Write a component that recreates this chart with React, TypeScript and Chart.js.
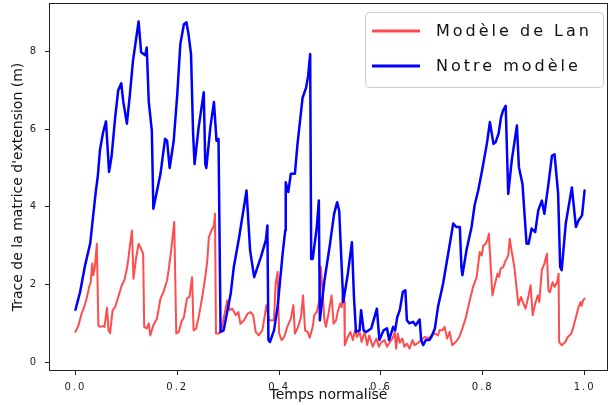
import React, { useEffect, useRef } from "react";
import { Chart, registerables } from "chart.js";

Chart.register(...registerables);

const seriesNames = ["Modèle de Lan", "Notre modèle"];
const xTicks = [0, 0.2, 0.4, 0.6, 0.8, 1.0];
const yTicks = [0, 2, 4, 6, 8];

const lanX = [0.000,0.006,0.012,0.017,0.022,0.027,0.030,0.033,0.035,0.038,0.042,0.045,0.048,0.054,0.057,0.062,0.065,0.068,0.073,0.078,0.084,0.091,0.096,0.101,0.104,0.107,0.111,0.114,0.119,0.124,0.129,0.133,0.135,0.140,0.144,0.147,0.153,0.160,0.167,0.173,0.180,0.183,0.188,0.194,0.198,0.203,0.208,0.213,0.219,0.224,0.229,0.232,0.237,0.242,0.249,0.255,0.259,0.262,0.267,0.272,0.274,0.276,0.282,0.287,0.293,0.298,0.303,0.308,0.315,0.320,0.324,0.331,0.338,0.344,0.349,0.354,0.360,0.367,0.372,0.375,0.380,0.387,0.390,0.393,0.397,0.400,0.405,0.410,0.416,0.423,0.428,0.431,0.436,0.443,0.447,0.451,0.456,0.460,0.466,0.469,0.474,0.479,0.482,0.486,0.489,0.492,0.497,0.503,0.507,0.512,0.515,0.520,0.523,0.526,0.528,0.529,0.535,0.540,0.545,0.549,0.553,0.558,0.562,0.568,0.573,0.577,0.584,0.591,0.596,0.600,0.607,0.612,0.617,0.624,0.627,0.630,0.633,0.637,0.642,0.646,0.651,0.656,0.662,0.666,0.673,0.679,0.686,0.693,0.699,0.706,0.712,0.715,0.721,0.725,0.730,0.735,0.740,0.747,0.754,0.760,0.767,0.773,0.781,0.788,0.794,0.798,0.801,0.806,0.810,0.812,0.816,0.819,0.824,0.829,0.832,0.835,0.840,0.845,0.850,0.853,0.857,0.862,0.867,0.870,0.875,0.880,0.884,0.890,0.894,0.898,0.903,0.908,0.911,0.916,0.921,0.926,0.929,0.932,0.937,0.941,0.946,0.949,0.950,0.955,0.962,0.967,0.974,0.978,0.983,0.988,0.992,0.994,0.997,1.000];
const lanY = [0.78,0.95,1.25,1.42,1.64,1.94,2.06,2.54,2.24,2.45,3.05,0.95,0.91,0.93,0.91,1.40,0.82,0.75,1.34,1.42,1.68,1.98,2.11,2.41,2.67,3.00,3.39,2.15,2.67,3.05,2.92,2.79,0.91,0.87,1.00,0.69,0.95,1.12,1.64,1.81,2.11,2.37,2.88,3.61,0.74,0.78,1.04,1.16,1.64,1.68,2.19,0.82,0.87,1.16,1.68,2.19,2.62,3.22,3.39,3.52,3.82,0.74,0.74,0.87,1.25,1.59,1.34,1.38,1.21,1.29,0.99,1.08,1.25,1.29,1.21,0.78,0.69,0.82,1.21,1.47,1.08,1.08,1.08,2.00,2.32,0.74,0.57,0.65,0.91,1.12,1.47,0.74,0.87,1.16,1.72,0.82,0.78,0.63,0.91,1.21,1.29,1.59,2.45,1.68,1.08,0.91,1.25,1.72,0.99,1.08,1.29,1.51,1.42,1.90,1.55,0.44,0.65,0.78,0.57,0.82,0.65,0.78,0.52,0.78,0.44,0.69,0.40,0.61,0.40,0.50,0.57,0.40,0.50,0.65,0.78,0.35,0.74,0.50,0.61,0.40,0.48,0.35,0.57,0.44,0.50,0.57,0.65,0.61,0.69,0.74,0.69,0.82,0.82,0.91,0.61,0.78,0.44,0.52,0.65,0.87,1.16,1.51,1.94,2.19,2.84,2.75,3.00,3.05,3.18,3.31,2.37,1.72,2.02,2.28,2.20,2.41,2.45,2.62,2.75,3.18,2.84,2.45,1.85,1.47,1.68,1.51,1.38,1.72,1.98,1.21,1.51,1.72,1.55,2.37,2.54,2.79,1.85,1.80,2.06,1.94,2.06,2.28,0.52,0.44,0.52,0.65,0.74,0.91,1.16,1.42,1.55,1.45,1.59,1.64];

const ourX = [0.000,0.009,0.019,0.029,0.035,0.040,0.044,0.048,0.054,0.060,0.066,0.071,0.078,0.084,0.090,0.094,0.101,0.107,0.113,0.124,0.129,0.137,0.140,0.144,0.150,0.153,0.167,0.176,0.180,0.185,0.193,0.200,0.206,0.213,0.218,0.222,0.227,0.231,0.234,0.242,0.252,0.255,0.257,0.265,0.272,0.277,0.281,0.285,0.291,0.305,0.311,0.321,0.336,0.343,0.351,0.364,0.374,0.377,0.379,0.382,0.390,0.397,0.407,0.412,0.413,0.418,0.423,0.431,0.436,0.446,0.453,0.457,0.461,0.463,0.466,0.474,0.478,0.480,0.489,0.499,0.508,0.514,0.518,0.526,0.535,0.543,0.547,0.551,0.558,0.561,0.566,0.571,0.581,0.592,0.597,0.605,0.612,0.616,0.624,0.628,0.632,0.637,0.643,0.648,0.651,0.656,0.663,0.668,0.676,0.679,0.683,0.688,0.695,0.699,0.706,0.712,0.722,0.732,0.742,0.748,0.755,0.758,0.760,0.768,0.778,0.784,0.791,0.798,0.808,0.814,0.821,0.825,0.831,0.836,0.840,0.845,0.850,0.857,0.867,0.871,0.878,0.886,0.890,0.896,0.903,0.909,0.916,0.921,0.929,0.936,0.941,0.948,0.952,0.955,0.963,0.975,0.983,0.988,0.995,1.000];
const ourY = [1.35,1.80,2.50,3.06,3.80,4.40,4.80,5.45,5.90,6.20,4.90,5.30,6.30,7.00,7.18,6.70,6.14,6.90,7.76,8.77,7.98,7.90,8.10,6.70,5.96,3.95,4.85,5.75,5.70,5.00,5.70,6.90,8.19,8.70,8.75,8.45,7.93,5.90,5.10,6.05,6.95,5.10,5.00,6.05,6.70,5.70,5.75,0.78,0.82,1.77,2.45,3.18,4.42,2.88,2.19,2.70,3.14,3.52,0.57,0.52,0.82,1.42,2.80,3.39,4.63,4.38,4.85,4.85,5.60,6.80,7.07,7.37,7.93,2.66,2.66,3.48,4.16,1.08,2.10,2.96,3.82,4.12,3.90,1.55,2.28,3.09,1.68,0.78,0.82,1.34,0.82,0.78,0.87,1.38,0.57,0.82,0.87,0.57,0.91,0.82,1.16,1.34,1.81,1.85,1.08,1.00,1.04,0.95,1.10,0.57,0.44,0.57,0.57,0.65,0.87,1.42,2.02,2.79,3.57,3.48,3.48,2.45,2.24,2.88,3.48,4.04,4.42,4.89,5.62,6.18,5.62,5.66,5.88,6.31,6.48,6.60,4.33,5.20,6.09,5.02,4.59,3.05,3.05,3.44,3.35,3.91,4.16,3.82,4.59,5.32,5.35,4.34,2.45,2.37,3.57,4.50,3.48,3.65,3.78,4.42];

export default function App() {
  const ref = useRef<HTMLCanvasElement | null>(null);

  useEffect(() => {
    if (!ref.current) return;
    const dark = "#222";
    const deco = {
      id: "deco",
      beforeDraw(chart: any) {
        chart.ctx.letterSpacing = "2px";
      },
      afterDraw(chart: any) {
        const ctx = chart.ctx;
        const a = chart.chartArea;
        ctx.save();
        ctx.letterSpacing = "0px";
        // frame
        ctx.strokeStyle = dark;
        ctx.lineWidth = 1;
        ctx.strokeRect(Math.round(a.left) - 0.5, Math.round(a.top) - 0.5, Math.round(a.right - a.left) + 1, Math.round(a.bottom - a.top) + 1);
        // axis titles
        ctx.fillStyle = "#111";
        ctx.font = '14px "DejaVu Sans"';
        ctx.textAlign = "center";
        ctx.textBaseline = "middle";
        ctx.fillText("Temps normalisé", (a.left + a.right) / 2, 395);
        ctx.save();
        ctx.translate(18, (a.top + a.bottom) / 2);
        ctx.rotate(-Math.PI / 2);
        ctx.fillText("Trace de la matrice d'extension (m)", 0, 0);
        ctx.restore();
        // legend
        const lx = 365.5, ly = 12.5, lw = 238, lh = 75;
        ctx.beginPath();
        ctx.roundRect(lx, ly, lw, lh, 4);
        ctx.fillStyle = "rgba(255,255,255,0.8)";
        ctx.fill();
        ctx.strokeStyle = "#cccccc";
        ctx.stroke();
        const colors = ["rgba(255,0,0,0.7)", "#0000ff"];
        const rows = [31, 66];
        ctx.font = '16px "DejaVu Sans"';
        ctx.letterSpacing = "3px";
        ctx.textAlign = "left";
        seriesNames.forEach((name, i) => {
          ctx.strokeStyle = colors[i];
          ctx.lineWidth = 3;
          ctx.beginPath();
          ctx.moveTo(372, rows[i]);
          ctx.lineTo(420, rows[i]);
          ctx.stroke();
          ctx.fillStyle = "#111";
          ctx.fillText(name, 436, rows[i] + 1);
        });
        ctx.restore();
      },
    };

    const chart = new Chart(ref.current, {
      type: "line",
      data: {
        datasets: [
          {
            label: seriesNames[0],
            data: lanX.map((x, i) => ({ x, y: lanY[i] })),
            borderColor: "rgba(255,0,0,0.7)",
            borderWidth: 2,
            borderJoinStyle: "round",
            borderCapStyle: "round",
            pointRadius: 0,
            tension: 0,
            order: 1,
          },
          {
            label: seriesNames[1],
            data: ourX.map((x, i) => ({ x, y: ourY[i] })),
            borderColor: "#0000ff",
            borderWidth: 2.5,
            borderJoinStyle: "round",
            borderCapStyle: "round",
            pointRadius: 0,
            tension: 0,
            order: 0,
          },
        ],
      },
      options: {
        animation: false,
        responsive: false,
        devicePixelRatio: 1,
        layout: { padding: { top: 4, right: 2, left: 0, bottom: 0 } },
        plugins: { legend: { display: false }, tooltip: { enabled: false } },
        scales: {
          x: {
            type: "linear",
            min: -0.05,
            max: 1.044,
            afterBuildTicks: (s: any) => {
              s.ticks = xTicks.map((v) => ({ value: v }));
            },
            afterFit: (s: any) => {
              s.height = 35;
              s.paddingLeft = 0;
              s.paddingRight = 0;
              s.paddingTop = 0;
              s.paddingBottom = 0;
            },
            ticks: {
              callback: (v: any) => Number(v).toFixed(1),
              font: { family: "DejaVu Sans", size: 10 },
              color: dark,
              maxRotation: 0,
              autoSkip: false,
              padding: 6,
            },
            grid: { drawOnChartArea: false, tickLength: 5, color: dark },
            border: { display: false },
          },
          y: {
            type: "linear",
            min: -0.2,
            max: 9.22,
            afterBuildTicks: (s: any) => {
              s.ticks = yTicks.map((v) => ({ value: v }));
            },
            afterFit: (s: any) => {
              s.width = 50;
              s.paddingLeft = 0;
              s.paddingRight = 0;
              s.paddingTop = 0;
              s.paddingBottom = 0;
            },
            ticks: {
              callback: (v: any) => String(v),
              font: { family: "DejaVu Sans", size: 10 },
              color: dark,
              padding: 7,
            },
            grid: { drawOnChartArea: false, tickLength: 5, color: dark },
            border: { display: false },
          },
        },
      },
      plugins: [deco],
    });
    return () => chart.destroy();
  }, []);

  return (
    <div style={{ position: "fixed", left: 0, top: 0, width: 609, height: 405, background: "#fff" }}>
      <canvas ref={ref} width={609} height={405} style={{ display: "block" }} />
    </div>
  );
}
